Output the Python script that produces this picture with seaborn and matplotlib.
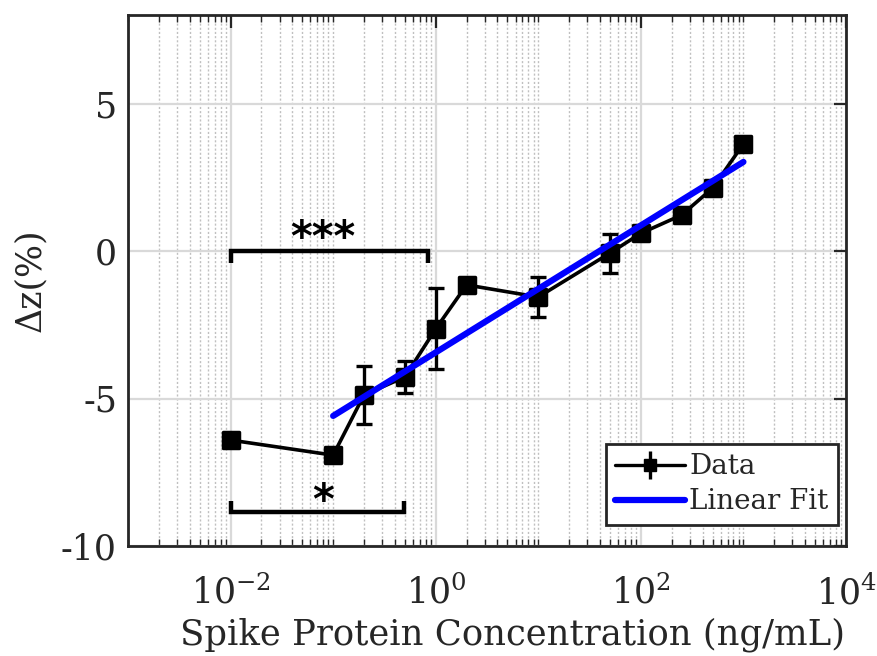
import numpy as np
import pandas as pd
import matplotlib
matplotlib.use("Agg")
import matplotlib.pyplot as plt
import seaborn as sns
from matplotlib.ticker import FixedLocator, FixedFormatter, NullFormatter
from matplotlib.lines import Line2D
from matplotlib.markers import MarkerStyle

# ---- data ----
conc = [0.01, 0.1, 0.2, 0.5, 1, 2, 10, 50, 100, 250, 500, 1000]
dz = [-6.41, -6.92, -4.88, -4.27, -2.64, -1.15, -1.56, -0.07, 0.60, 1.22, 2.13, 3.63]
dz_err = [0.0, 0.2, 0.98, 0.53, 1.37, 0.25, 0.68, 0.66, 0.2, 0.2, 0.2, 0.2]
fit_x = [0.1, 1000]
fit_y = [-5.59, 3.02]
xtick_vals = [1e-2, 1e0, 1e2, 1e4]
xtick_labels = ["$10^{-2}$", "$10^{0}$", "$10^{2}$", "$10^{4}$"]
ytick_vals = [-10, -5, 0, 5]
ytick_labels = ["-10", "-5", "0", "5"]
brackets = [  # (x_left, x_right, y_line, y_tick_end, label, label_x, label_y)
    (0.01, 0.84, 0.0, -0.42, "***", 0.079, 0.0),
    (0.01, 0.49, -8.85, -8.48, "*", 0.079, -8.9),
]

sns.set_theme(style="white")
plt.rcParams["font.family"] = ["DejaVu Serif"]
plt.rcParams["mathtext.fontset"] = "dejavuserif"
plt.rcParams["mathtext.default"] = "regular"

fig = plt.figure(figsize=(8.77, 6.56), dpi=100)
ax = fig.add_axes([128 / 877, 110 / 656, (846 - 128) / 877, (546 - 15) / 656])

df = pd.DataFrame({"conc": conc, "dz": dz})
ax.set_xscale("log")

# error bars
ax.errorbar(conc, dz, yerr=dz_err, fmt="none", ecolor="black", elinewidth=2.4,
            capsize=6, capthick=2.4, zorder=3)
# data line + markers
sq = MarkerStyle("s", joinstyle="round")
sns.lineplot(data=df, x="conc", y="dz", ax=ax, color="black", linewidth=2.6,
             marker=sq, markersize=12, markeredgewidth=2.5,
             markeredgecolor="black", markerfacecolor="black", zorder=4,
             legend=False)
# fit line
fdf = pd.DataFrame({"x": fit_x, "y": fit_y})
sns.lineplot(data=fdf, x="x", y="y", ax=ax, color=(0, 0, 1), linewidth=4.5,
             zorder=5, legend=False)

# brackets
for xl, xr, yl, yt, lab, lx, ly in brackets:
    ax.plot([xl, xl, xr, xr], [yt, yl, yl, yt], color="black", linewidth=3.2,
            solid_capstyle="butt", solid_joinstyle="miter", zorder=6)
    ax.text(lx, ly, lab, ha="center", va="baseline", fontsize=30,
            fontweight="bold", color="black", family="DejaVu Sans")

ax.set_xlim(1e-3, 1e4)
ax.set_ylim(-10, 8)

# ticks
minor = []
for e in range(-3, 4):
    for m in range(1, 10):
        v = m * 10.0 ** e
        if v not in xtick_vals:
            minor.append(v)
ax.xaxis.set_major_locator(FixedLocator(xtick_vals))
ax.xaxis.set_major_formatter(FixedFormatter(xtick_labels))
ax.xaxis.set_minor_locator(FixedLocator(minor))
ax.xaxis.set_minor_formatter(NullFormatter())
ax.yaxis.set_major_locator(FixedLocator(ytick_vals))
ax.yaxis.set_major_formatter(FixedFormatter(ytick_labels))

ax.tick_params(axis="both", which="major", direction="in", length=9, width=1.6,
               color="#262626", labelsize=25, labelcolor="#262626",
               top=True, right=True)
ax.tick_params(axis="x", which="major", pad=21)
ax.tick_params(axis="y", which="major", pad=8)
ax.tick_params(axis="x", which="minor", direction="in", length=5, width=1.0,
               color="#262626", top=True, bottom=True)

# grids
ax.grid(True, which="major", axis="both", color="#d9d9d9", linewidth=1.6,
        linestyle="-", zorder=0)
ax.grid(True, which="minor", axis="x", color="#c0c0c0", linewidth=1.0,
        linestyle=(0, (1.5, 1.5)), zorder=0)
ax.set_axisbelow(True)

for s in ax.spines.values():
    s.set_color("#262626")
    s.set_linewidth(2.0)
    s.set_visible(True)

ax.set_xlabel("Spike Protein Concentration (ng/mL)", fontsize=25.5,
              color="#262626")
ax.xaxis.set_label_coords(0.536, -0.135)
ax.set_ylabel("Δz(%)", fontsize=25, color="#262626", labelpad=10)

# legend
h_data = ax.errorbar([], [], yerr=[], fmt="-s", color="black", ecolor="black",
                     markersize=9, linewidth=2.4, elinewidth=2.4, capsize=5,
                     capthick=2.4)
h_fit = Line2D([], [], color=(0, 0, 1), linewidth=4.5)
leg = ax.legend([h_data, h_fit], ["Data", "Linear Fit"], loc="lower right",
                fontsize=20, frameon=True, fancybox=False, framealpha=1,
                edgecolor="#262626", borderpad=0.35, labelspacing=0.28,
                handlelength=2.5, handletextpad=0.15, borderaxespad=0.0,
                bbox_to_anchor=(838 / 877, (656 - 525) / 656),
                bbox_transform=fig.transFigure)
leg.get_frame().set_linewidth(2.0)

fig.savefig("out.png", dpi=100)
